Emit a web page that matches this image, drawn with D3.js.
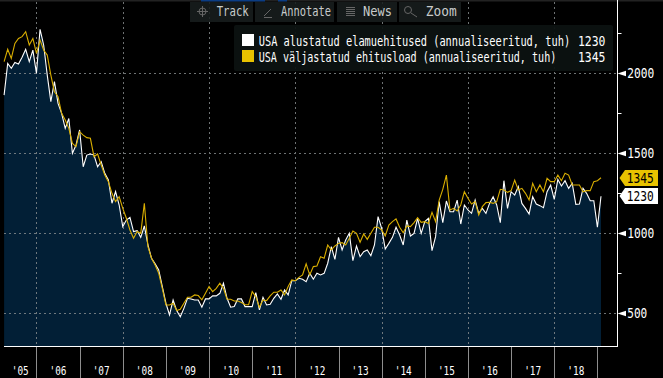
<!DOCTYPE html>
<html><head><meta charset="utf-8">
<script src="https://cdn.jsdelivr.net/npm/d3@7"></script>
<style>html,body{margin:0;padding:0;background:#000}svg{display:block}text{font-family:"DejaVu Sans Mono",monospace}</style>
</head><body><svg id="c" width="663" height="378"></svg>
<script>
const startsSeries=[1862,2060,2029,2066,2056,2098,2148,2071,2143,1998,2273,2175,1987,1821,1946,1810,1748,1654,1716,1498,1550,1644,1414,1487,1494,1487,1414,1446,1373,1331,1186,
1259,1175,1040,1081,1098,1009,1015,973,1044,925,842,807,769,665,561,488,581,515,477,529,592,588,581,581,536,588,588,607,607,623,686,592,536,540,588,588,540,540,540,627,519,598,550,554,592,619,586,644,613,702,702,717,711,696,748,711,748,738,748,811,915,
835,973,894,956,998,827,919,852,883,894,858,925,1102,1029,900,935,973,1036,987,925,1081,981,998,1092,998,1071,1092,890,977,1196,1065,1200,1133,1133,1206,1056,1175,1144,1123,1206,1123,1154,1123,1185,1227,1175,1065,1327,1154,1258,1237,1290,1185,1154,1119,1227,1181,1171,1158,1258,1300,1210,1335,1294,1327,1279,1310,1179,1181,1279,1248,1202,1202,1036,1230];
const permitsSeries=[2071,2148,2091,2185,2216,2227,2258,2175,2216,2123,2206,2144,2112,1987,1883,1852,1748,1706,1654,1560,1540,1633,1612,1596,1592,1477,1494,1425,1362,1321,1248,
1196,1227,1154,1092,1019,967,1009,998,1186,915,842,800,748,654,550,550,561,515,523,561,598,598,613,609,582,623,665,634,654,686,654,586,586,575,575,565,552,552,634,602,536,582,577,607,630,630,644,613,665,707,702,723,738,807,738,790,794,852,842,925,894,
919,935,940,925,967,1012,998,942,994,960,998,1036,1036,1019,981,1050,1071,1088,1036,1002,1044,1040,1065,1096,1067,1071,1060,1129,1071,1206,1273,1362,1144,1154,1138,1175,1258,1217,1181,1196,1112,1165,1190,1192,1185,1196,1273,1269,1254,1265,1331,1269,1279,1248,1206,1310,1258,1300,1258,1342,1321,1321,1362,1327,1373,1362,1300,1300,1300,1258,1265,1265,1321,1327,1345];
const yearLabels=["'05","'06","'07","'08","'09","'10","'11","'12","'13","'14","'15","'16","'17","'18"];
const yearTickMonths=[9,21,33,45,57,69,81,93,105,117,129,141,153,165];
const gridMonths=[9,33,57,81,105,129,153];
const yMajor=[500,1000,1500,2000];
const yMinor=[750,1250,1750,2250];
const legendRows=[["USA alustatud elamuehitused (annualiseeritud, tuh)","1230"],["USA väljastatud ehitusload (annualiseeritud, tuh)","1345"]];
const toolbar=["Track","Annotate","News","Zoom"];

const svg=d3.select("#c");
const x=d3.scaleLinear().domain([0,166]).range([4.1,601]);
const y=d3.scaleLinear().domain([0,2000]).range([393,73]);
const base=346, axisX=617.5, FS=13.5;
const WHITE="#ffffff",GOLD="#d9ae00",TAG="#e8c200",FILL="#021f36";

// narrow text: condensed horizontally so it spans the given width
function label(str,tx,ty,width,fill,size=FS){
  const s=String(str), sx=width/(s.length*size*0.602);
  svg.append("text").attr("transform",`translate(${tx},${ty}) scale(${sx},1)`)
    .attr("fill",fill).attr("font-size",size).text(s);
}

svg.append("rect").attr("width",663).attr("height",378).attr("fill","#000");
svg.append("rect").attr("width",663).attr("height",1.5).attr("fill","#222");
[[201,64],[278,9]].forEach(([a,w])=>svg.append("rect").attr("x",a).attr("y",0).attr("width",w).attr("height",1.5).attr("fill","#0b3d84"));

svg.append("path").datum(startsSeries).attr("fill",FILL)
 .attr("d",d3.area().x((d,i)=>x(i)).y0(base).y1(d=>y(d)));

const g=svg.append("g").attr("stroke","#8a8f90").attr("stroke-dasharray","2 3").attr("stroke-width",1).attr("opacity",.8);
gridMonths.forEach(m=>g.append("line").attr("x1",Math.round(x(m))+.5).attr("x2",Math.round(x(m))+.5).attr("y1",2).attr("y2",base));
yMajor.forEach(v=>g.append("line").attr("x1",4).attr("x2",axisX).attr("y1",y(v)+.5).attr("y2",y(v)+.5));

const line=d3.line().x((d,i)=>x(i)).y(d=>y(d));
svg.append("path").datum(startsSeries).attr("fill","none").attr("stroke",WHITE).attr("stroke-width",1.1).attr("d",line);
svg.append("path").datum(permitsSeries).attr("fill","none").attr("stroke",GOLD).attr("stroke-width",1.1).attr("d",line);

svg.append("line").attr("x1",4).attr("x2",axisX+.5).attr("y1",base+.5).attr("y2",base+.5).attr("stroke","#fff");
svg.append("line").attr("x1",axisX).attr("x2",axisX).attr("y1",0).attr("y2",base+1).attr("stroke","#fff");
yearTickMonths.forEach((m,k)=>{
  const px=Math.round(x(m))+.5;
  svg.append("line").attr("x1",px).attr("x2",px).attr("y1",base+1).attr("y2",378).attr("stroke","#8e8e8e");
  const prev=k?x(yearTickMonths[k-1]):4;
  label(yearLabels[k],(x(m)+prev)/2-8.5,374.8,17,"#fff",12.5);
});
yMajor.forEach(v=>{
  const p=y(v)+.5;
  svg.append("path").attr("fill","#fff").attr("d",`M${axisX} ${p}L${axisX+8.5} ${p-2.7}V${p+2.7}Z`);
  label(v,627.3,p+4.8,v>=1000?27:20,"#fff");
});
yMinor.forEach(v=>svg.append("line").attr("x1",axisX).attr("x2",axisX+4).attr("y1",y(v)+.5).attr("y2",y(v)+.5).attr("stroke","#fff"));

function tag(val,p,bg){
  svg.append("path").attr("fill",bg).attr("d",`M619.5 ${p}L625 ${p-8}H658V${p+8}H625Z`);
  label(val,626.7,p+5,27,"#000");
}
tag(legendRows[1][1],178,TAG);
tag(legendRows[0][1],196,"#fff");

const bx=[[190,63],[255,79],[337,60],[399,62]];
toolbar.forEach((t,k)=>{
  const [a,w]=bx[k];
  svg.append("rect").attr("x",a).attr("y",2).attr("width",w).attr("height",20).attr("fill","#181e1e").attr("fill-opacity",.88);
  label(t,[216.7,281,363,425.7][k],16,[32,50,29,31][k],"#c8cbcb");
});
const ic=svg.append("g").attr("stroke","#666").attr("fill","none");
ic.append("circle").attr("cx",202.5).attr("cy",11.5).attr("r",3.5);
ic.append("path").attr("d","M197 11.5H208M202.5 6V17");
ic.append("path").attr("d","M264 16L271 9M264 17.5H272");
ic.append("path").attr("d","M346 7.5H355M346 9.5H355M346 11.5H355M346 13.5H355M346 15.5H355");
ic.append("circle").attr("cx",408).attr("cy",10).attr("r",3.5);
ic.append("path").attr("d","M411 13L417 17");

svg.append("rect").attr("x",234).attr("y",25).attr("width",379).attr("height",46).attr("rx",2).attr("fill","#0c1211").attr("fill-opacity",.94);
legendRows.forEach((r,k)=>{
  const ty=46+k*16;
  svg.append("rect").attr("x",242).attr("y",34+k*16).attr("width",12).attr("height",12).attr("fill",k?TAG:"#fff");
  label(r[0],258.7,ty,k?298:312,"#fff");
  label(r[1],578,ty,27.5,"#fff");
});
</script></body></html>
